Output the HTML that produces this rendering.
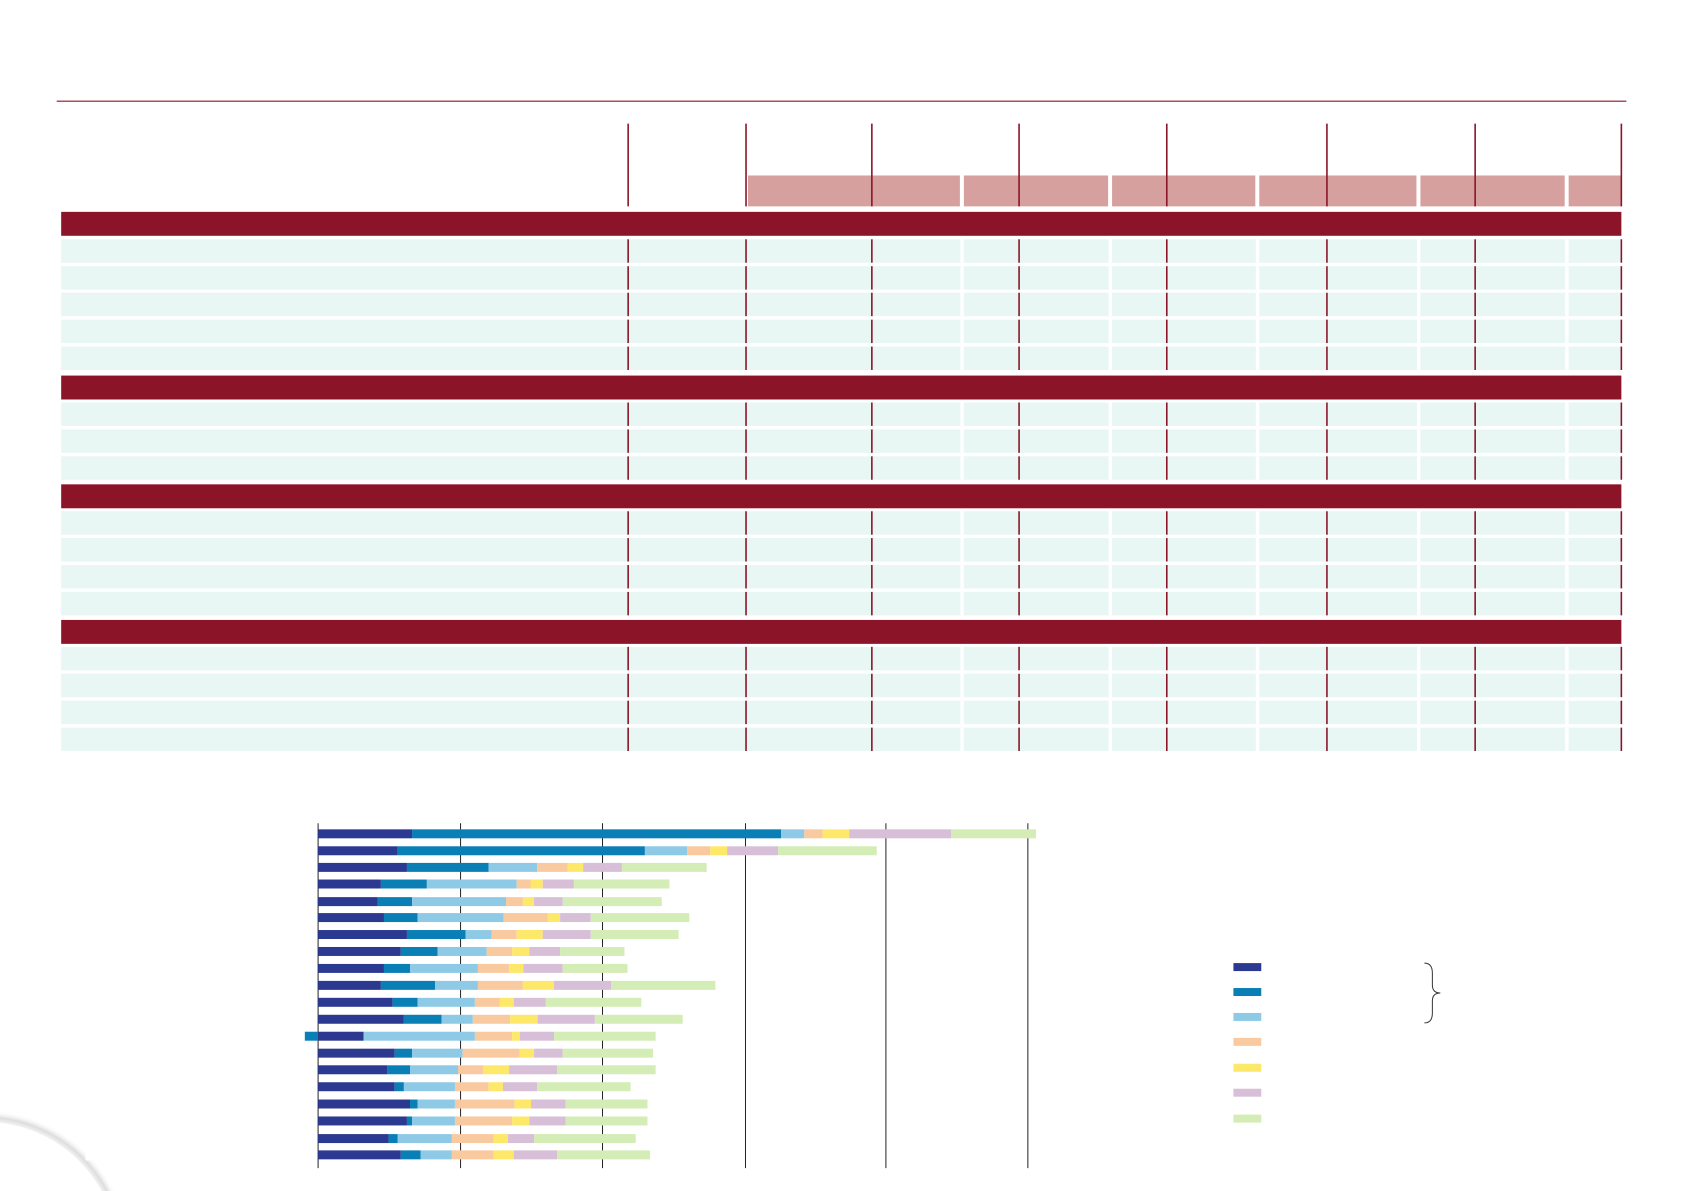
<!DOCTYPE html>
<html><head><meta charset="utf-8"><style>
html,body{margin:0;padding:0;background:#fff;width:1684px;height:1191px;overflow:hidden;font-family:"Liberation Sans",sans-serif}
svg{position:absolute;left:0;top:0}
</style></head><body>
<svg id="s0" width="1684" height="1191" viewBox="0 0 1684 1191" xmlns="http://www.w3.org/2000/svg">
<defs><radialGradient id="g" cx="0.5" cy="0.5" r="0.5"><stop offset="0.9" stop-color="#fff"/><stop offset="0.95" stop-color="#ddd"/><stop offset="1" stop-color="#fff" stop-opacity="0"/></radialGradient></defs>
<circle cx="-15" cy="1255" r="145" fill="url(#g)"/>
<circle cx="-15" cy="1255" r="133" fill="#fff"/>
<g id="s" transform="scale(0.9947,0.997)"></g>
</svg>
<script>
var s=document.getElementById('s'),NS='http://www.w3.org/2000/svg';
function r(x,y,w,h,c){var e=document.createElementNS(NS,'rect');e.setAttribute('x',x);e.setAttribute('y',y);e.setAttribute('width',w);e.setAttribute('height',h);e.setAttribute('fill',c);s.appendChild(e);}
function l(x1,y1,x2,y2,c,w){var e=document.createElementNS(NS,'line');e.setAttribute('x1',x1);e.setAttribute('y1',y1);e.setAttribute('x2',x2);e.setAttribute('y2',y2);e.setAttribute('stroke',c);e.setAttribute('stroke-width',w);s.appendChild(e);}
var R='#8b1428';
l(57,101.5,1635,101.5,R,1.2);
var vx=[631.5,750,876.5,1024.5,1173,1334,1483,1630];
var pk=[[752,965],[969,1114],[1118,1262],[1266,1424],[1428,1573],[1577,1630]];
pk.forEach(function(p){r(p[0],176,p[1]-p[0],31,'#d6a09e');});
vx.forEach(function(x){l(x,124,x,207,R,1.6);});
[212.5,376.7,485.8,621.8].forEach(function(y){r(61.5,y,1568.5,24,R);});
var rows=[240,267,293.6,320.6,347.6,403.7,430.7,457.7,512.8,539.7,566.7,593.7,648.8,675.8,702.8,729.8];
rows.forEach(function(y){r(61.5,y,1568.5,23.5,'#e8f6f4');
 [965.5,1114.5,1262.5,1424.5,1573.5].forEach(function(x){r(x,y,3.5,23.5,'#fff');});
 vx.forEach(function(x){l(x,y,x,y+23.5,R,1.6);});});
function X(z){return 251+z/1.948;}
var DY=4;
[134,413,691,971,1246,1524].forEach(function(z){l(X(z),821.7+DY,X(z),1167.7+DY,'#222',1);});
var C=['#2b3990','#0a7fb5','#8ecae6','#f9c9a0','#fde86a','#d8bfd8','#d4ecb5'];
var B=[[134,318,1041,1086,1122,1174,1374,1540],[134,290,774,857,902,935,1035,1228],[134,308,468,563,623,653,729,895],[134,257,347,523,550,574,635,822],[134,251,318,502,535,557,613,807],[134,263,329,497,584,608,668,861],[134,308,423,474,523,574,668,840],[134,296,368,464,514,548,608,734],[134,263,314,447,508,536,613,740],[134,257,363,447,535,596,708,912],[134,280,329,441,490,517,580,767],[134,302,376,437,510,564,676,848],null,[134,284,318,417,529,557,613,790],[134,269,314,408,457,508,602,795],[134,284,302,402,468,496,563,746],[134,314,329,402,519,551,619,779],[134,308,318,402,514,548,619,779],[134,272,290,396,478,506,557,756],[134,296,335,396,478,517,602,784]];
var Y=[97,148,198,248,301,349,400,451,502,553,604,655,706,757,807,858,910,961,1014,1063];
B.forEach(function(b,i){var yc=800+Y[i]/3-4.5+DY;
 if(!b){r(X(108),yc,X(134)-X(108),9,C[1]);var bb=[134,223,441,514,529,596,795],cc=[0,2,3,4,5,6];
  for(var k=0;k<6;k++)r(X(bb[k]),yc,X(bb[k+1])-X(bb[k]),9,C[cc[k]]);return;}
 for(var k=0;k<7;k++)r(X(b[k]),yc,X(b[k+1])-X(b[k]),9,C[k]);});
[970,995,1020,1045,1071,1096,1122].forEach(function(y,i){r(1240,y-4,28,8,C[i]);});
var p=document.createElementNS(NS,'path');p.setAttribute('d','M1432 966 q8 0 8 10 v12 q0 8 8 8 q-8 0 -8 8 v12 q0 10 -8 10');p.setAttribute('fill','none');p.setAttribute('stroke','#333');p.setAttribute('stroke-width','1');s.appendChild(p);
r(86,1158,12,6,'#fff');
</script>
</body></html>
